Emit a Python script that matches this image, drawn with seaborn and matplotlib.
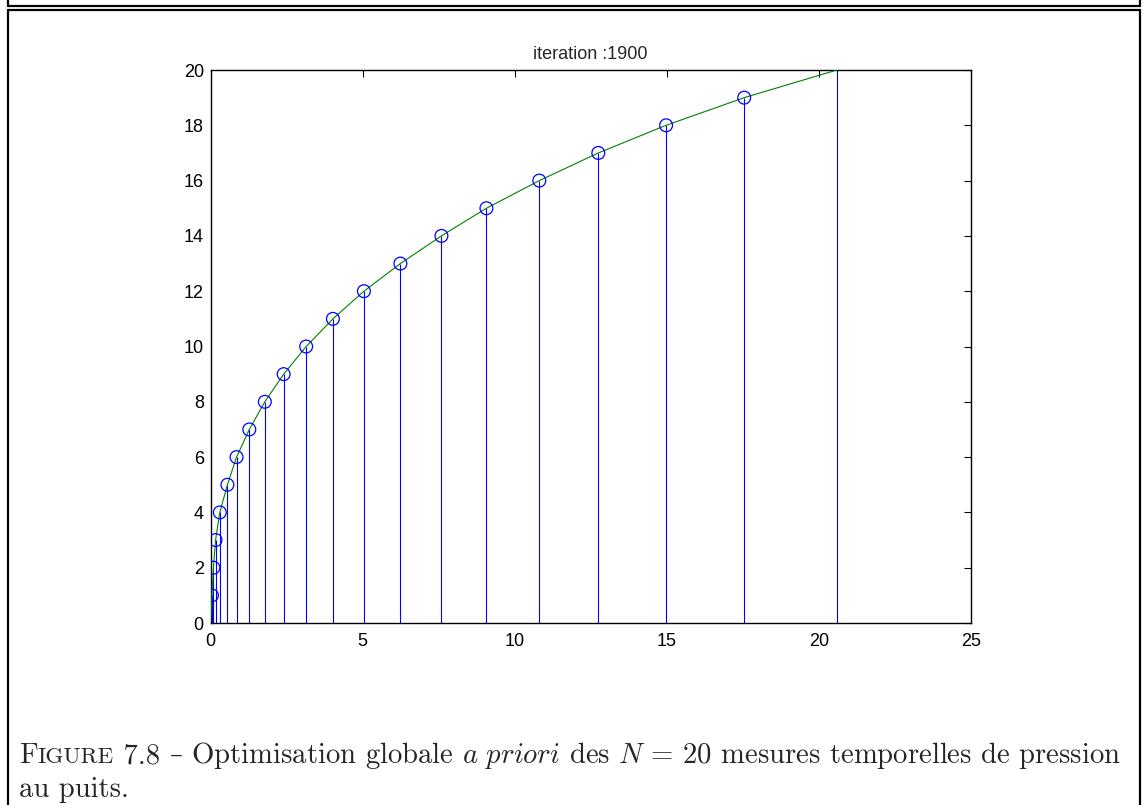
import matplotlib
matplotlib.use("Agg")
import matplotlib.pyplot as plt
from matplotlib.lines import Line2D
import seaborn as sns

# ---- data ----
meas_index = [1, 2, 3, 4, 5, 6, 7, 8, 9, 10, 11, 12, 13, 14, 15, 16, 17, 18, 19, 20]
meas_time = [0.04, 0.09, 0.16, 0.30, 0.55, 0.85, 1.27, 1.78, 2.40, 3.14, 4.02,
             5.04, 6.24, 7.59, 9.07, 10.81, 12.75, 14.98, 17.55, 20.60]
curve_x = [0.0] + meas_time
curve_y = [0] + meas_index
title_text = "iteration :1900"
x_ticks = [0, 5, 10, 15, 20, 25]
y_ticks = [0, 2, 4, 6, 8, 10, 12, 14, 16, 18, 20]

sns.set_theme(style="white")
plt.rcParams["font.family"] = ["Liberation Sans", "DejaVu Sans"]
plt.rcParams["mathtext.fontset"] = "cm"

W, H = 1143, 805
fig = plt.figure(figsize=(W / 100, H / 100), dpi=100)
fig.patch.set_facecolor("white")

left, right, top, bottom = 210.7, 970.7, 70, 623
ax = fig.add_axes([left / W, 1 - bottom / H, (right - left) / W, (bottom - top) / H])
ax.set_facecolor("white")

# stems
ax.vlines(meas_time, 0, meas_index, colors=(0, 0, 1), linewidth=0.8, zorder=2)
# green curve
sns.lineplot(x=curve_x, y=curve_y, ax=ax, color=(0, 0.5, 0), linewidth=0.8,
             sort=False, estimator=None, zorder=3)
# circles (top measurement has no visible marker)
sns.scatterplot(x=meas_time[:-1], y=meas_index[:-1], ax=ax, marker="o", s=85,
                facecolors="none", edgecolor=(0, 0, 1), linewidth=0.9, zorder=4)

ax.set_xlim(0, 25)
ax.set_ylim(0, 20)
ax.set_xticks(x_ticks)
ax.set_yticks(y_ticks)
ax.set_xticklabels([str(t) for t in x_ticks])
ax.set_yticklabels([str(t) for t in y_ticks])
ax.tick_params(axis="both", direction="in", length=5, width=0.8, colors="black",
               labelsize=13, top=True, right=True)
ax.tick_params(axis="x", pad=7)
ax.tick_params(axis="y", pad=5)
for sp in ax.spines.values():
    sp.set_visible(True)
    sp.set_color("black")
    sp.set_linewidth(1.0)
ax.set_title(title_text, fontsize=13, pad=8)
ax.grid(False)

# page frame (LaTeX boxed figure)
def px_line(x0, y0, x1, y1, lw=1.6):
    fig.add_artist(Line2D([x0 / W, x1 / W], [1 - y0 / H, 1 - y1 / H],
                          color="black", linewidth=lw, transform=fig.transFigure))

px_line(8, 0, 8, 6)
px_line(1140, 0, 1140, 6)
px_line(8, 6, 1140, 6)
px_line(8, 10, 1140, 10)
px_line(8, 10, 8, 805)
px_line(1140, 10, 1140, 805)

# caption (pieces laid out on a common baseline)
cap_fam = ["cmr10", "DejaVu Serif"]
S = 20.65
base1 = 1 - 763 / H
base2 = 1 - 797 / H
pieces = [
    ("F", S, cap_fam),
    ("IGURE", S * 0.8, cap_fam),
    (" 7.8 ", S, cap_fam),
    ("–", S * 0.9, ["DejaVu Serif"]),
    (r" Optimisation globale $\mathit{a\ priori}$ des $N\,=\,20$ mesures temporelles de pression",
     S, cap_fam),
]
renderer = fig.canvas.get_renderer()
xpos = 19.0
for txt, size, fam in pieces:
    t = fig.text(xpos / W, base1, txt, fontsize=size, family=fam, va="baseline", ha="left")
    bb = t.get_window_extent(renderer)
    xpos = bb.x1
fig.text(19 / W, base2, "au puits.", fontsize=S, family=cap_fam, va="baseline", ha="left")

fig.savefig("out.png", dpi=100, facecolor="white")
